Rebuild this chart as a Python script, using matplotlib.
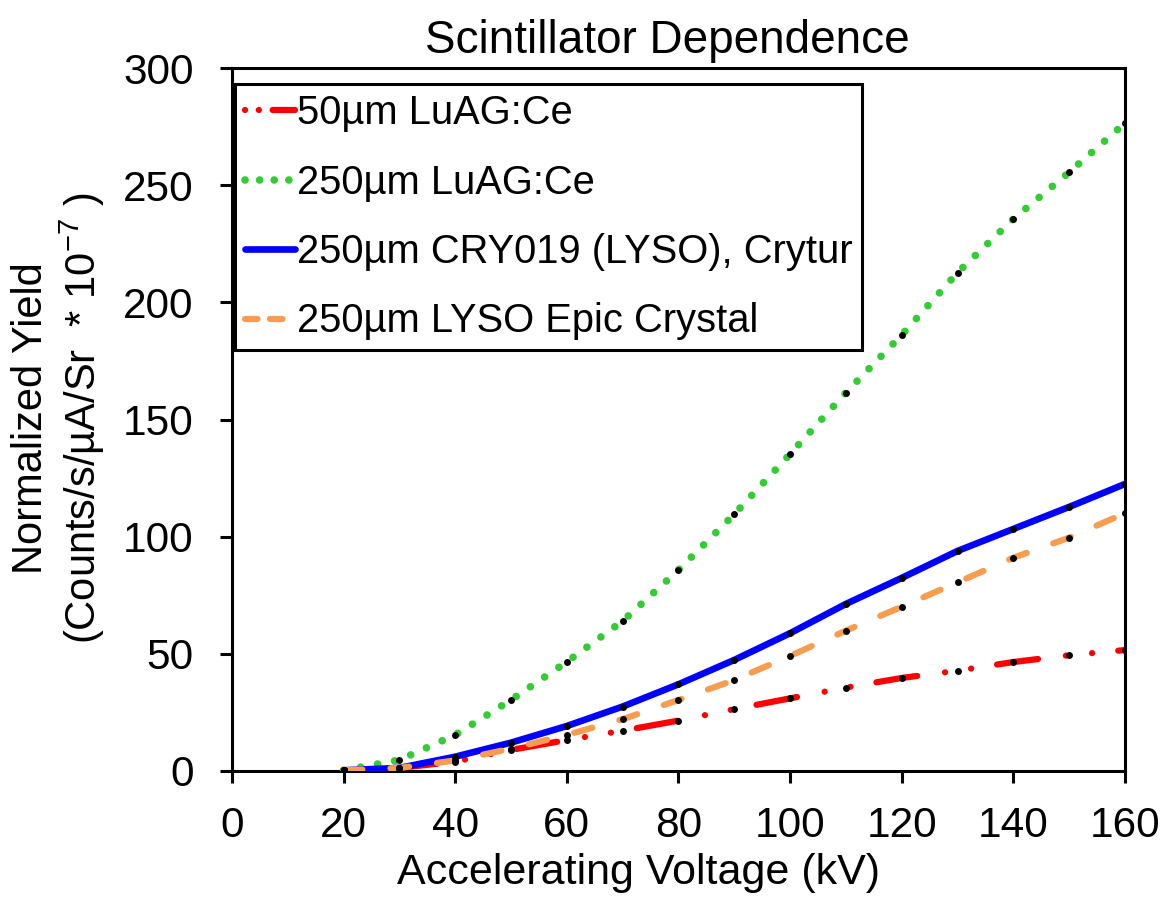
import matplotlib
matplotlib.use("Agg")
import matplotlib.pyplot as plt
from matplotlib.lines import Line2D

plt.rcParams['font.family'] = ['Liberation Sans', 'DejaVu Sans']
plt.rcParams['mathtext.fontset'] = 'custom'
plt.rcParams['mathtext.rm'] = 'Liberation Sans'
plt.rcParams['mathtext.it'] = 'Liberation Sans:italic'
plt.rcParams['mathtext.bf'] = 'Liberation Sans:bold'

# Accelerating voltage (kV)
voltage = [20, 30, 40, 50, 60, 70, 80, 90, 100, 110, 120, 130, 140, 150, 160]

# Normalized yield, counts/s/uA/Sr * 1e-7
luag_50 = [0.3, 1.3, 4.0, 9.0, 13.2, 17.2, 21.5, 26.4, 31.0, 35.6, 39.7, 42.8, 46.5, 49.4, 51.6]
luag_250 = [0.3, 4.7, 15.4, 30.3, 46.6, 64.0, 85.8, 109.6, 135.3, 161.5, 186.1, 212.7, 235.6, 255.5, 276.5]
cry019_250 = [0.3, 1.3, 6.1, 12.1, 19.2, 27.5, 37.0, 47.4, 58.8, 71.3, 82.4, 93.9, 103.3, 112.7, 122.5]
epic_250 = [0.3, 1.3, 4.5, 9.5, 15.4, 22.1, 30.3, 38.8, 49.1, 59.9, 70.1, 80.5, 91.0, 99.6, 110.0]

labels = ["50µm LuAG:Ce", "250µm LuAG:Ce",
          "250µm CRY019 (LYSO), Crytur", "250µm LYSO Epic Crystal"]
x_ticks = [0, 20, 40, 60, 80, 100, 120, 140, 160]
y_ticks = [0, 50, 100, 150, 200, 250, 300]

colors = ['#ff0000', '#33cc33', '#0000ff', '#f79d4f']
widths = [4.5, 5.5, 4.8, 4.5]
# dash patterns on the plot (in line-width units) and shorter ones for the legend keys
plot_dashes = [(0.01, 4.2, 0.01, 4.2, 6.6, 4.5), (0.01, 2.25), None, (3.0, 4.5)]
key_dashes = [(0.01, 2.2, 0.01, 2.2, 4.0, 3.0), (0.01, 1.9), None, (2.0, 2.0)]

fig = plt.figure(figsize=(11.64, 9.01), dpi=100)
ax = fig.add_axes([0.1993, 0.1443, 0.7672, 0.7802])

series = [luag_50, luag_250, cry019_250, epic_250]
handles = []
for vals, c, w, d, kd in zip(series, colors, widths, plot_dashes, key_dashes):
    if d is None:
        ax.plot(voltage, vals, color=c, lw=w, linestyle='-',
                solid_capstyle='round', zorder=3)
        handles.append(Line2D([], [], color=c, lw=w, linestyle='-',
                              solid_capstyle='round'))
    else:
        ax.plot(voltage, vals, color=c, lw=w, dashes=d,
                dash_capstyle='round', zorder=3)
        handles.append(Line2D([], [], color=c, lw=w, dashes=kd,
                              dash_capstyle='round'))
for vals in series:
    ax.plot(voltage, vals, linestyle='none', marker='o', markersize=5,
            markeredgewidth=0, color='black', zorder=4)

ax.set_xlim(0, 160)
ax.set_ylim(0, 300)
ax.set_xticks(x_ticks)
ax.set_yticks(y_ticks)

for sp in ax.spines.values():
    sp.set_linewidth(2.2)
    sp.set_color('black')
ax.tick_params(axis='both', direction='out', length=8.5, width=2.2,
               labelsize=30.5, colors='black')
ax.tick_params(axis='x', pad=17)
ax.tick_params(axis='y', pad=19)

fig.text(667 / 1164, 1 - 53 / 901, "Scintillator Dependence", fontsize=33,
         ha='center', va='baseline')
fig.text(638 / 1164, 1 - 884 / 901, "Accelerating Voltage (kV)", fontsize=31,
         ha='center', va='baseline')
fig.text(31 / 1164, 1 - 418 / 901, "Normalized Yield", fontsize=30,
         rotation=90, ha='center', va='center')
fig.text(82 / 1164, 1 - 418 / 901, "(Counts/s/µA/Sr  * 10$^{-7}$ )", fontsize=30,
         rotation=90, ha='center', va='center')

leg = ax.legend(handles, labels, loc='upper left',
                bbox_to_anchor=(0.0034, 0.9772), borderaxespad=0,
                fontsize=28.7, frameon=True, fancybox=False, framealpha=1,
                edgecolor='black', handlelength=1.25, handletextpad=0.05,
                labelspacing=0.79, borderpad=0.25)
leg.get_frame().set_linewidth(2.2)

fig.savefig("out.png", dpi=100)
